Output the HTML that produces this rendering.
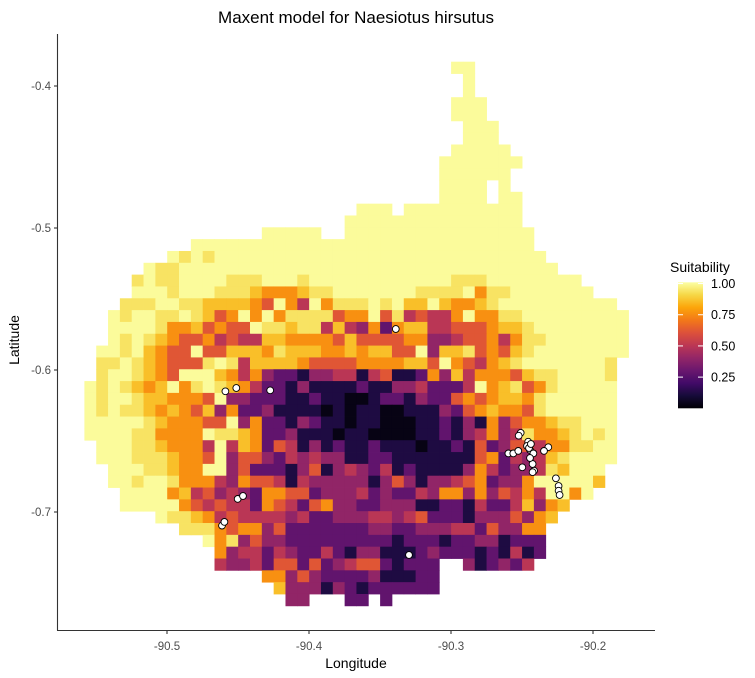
<!DOCTYPE html>
<html><head><meta charset="utf-8"><style>
html,body{margin:0;padding:0;background:#fff;}
svg{display:block;font-family:"Liberation Sans",Arial,sans-serif;}
</style></head><body>
<svg id="chart" width="755" height="678" viewBox="0 0 755 678" xmlns="http://www.w3.org/2000/svg">
<defs>
<linearGradient id="inf" x1="0" y1="1" x2="0" y2="0">
<stop offset="0" stop-color="#000004"/><stop offset="0.1" stop-color="#160b39"/><stop offset="0.2" stop-color="#420a68"/><stop offset="0.3" stop-color="#6a176e"/><stop offset="0.4" stop-color="#932667"/><stop offset="0.5" stop-color="#bc3754"/><stop offset="0.6" stop-color="#dd513a"/><stop offset="0.7" stop-color="#f37819"/><stop offset="0.8" stop-color="#fca50a"/><stop offset="0.9" stop-color="#f6d746"/><stop offset="1" stop-color="#fcffa4"/>
</linearGradient>
</defs>
<text x="356" y="23" text-anchor="middle" font-size="17" fill="#000">Maxent model for Naesiotus hirsutus</text>
<g id="cells"></g>
<g id="pts"></g>
<line x1="57.5" y1="34" x2="57.5" y2="630.5" stroke="#333" stroke-width="1.1"/>
<line x1="57" y1="630.5" x2="655" y2="630.5" stroke="#333" stroke-width="1.1"/>
<g id="xt"></g>
<g id="yt"></g>
<text x="356" y="668" text-anchor="middle" font-size="14" fill="#000">Longitude</text>
<text x="19" y="340" text-anchor="middle" font-size="14" fill="#000" transform="rotate(-90 19 340)">Latitude</text>
<g>
<text x="670" y="272" font-size="14" fill="#000">Suitability</text>
<rect x="678" y="282.3" width="25" height="126" fill="url(#inf)"/>
<g id="lt"></g>
</g>
</svg>
<script>
// ---- data ----
const lonTicks = [-90.5, -90.4, -90.3, -90.2];
const latTicks = [-0.4, -0.5, -0.6, -0.7];
const legendTicks = [1.00, 0.75, 0.50, 0.25];
const levelValues = [0.03, 0.12, 0.28, 0.40, 0.50, 0.62, 0.76, 0.86, 0.94, 1.0];
const gridLon0 = -90.55817;
const gridLat0 = -0.38289;
const cellDeg = 0.00833;
const rowStarts = [31,32,32,31,31,32,32,31,30,30,30,30,23,22,15,9,7,5,4,4,3,2,2,2,1,1,1,0,0,0,0,0,1,1,2,2,3,3,6,8,10,11,11,15,16,17];
const rowValues = [
"99","9","9","999","999","999","999","99999","9999999","999999","9999.9","9999.99",
"999.9999999999",
"999999999999999",
"99999..9999999999999999",
"99999999999999999999999999999",
"9898"+"9999999999999999999999999999",
"988"+"99999999999999999999999999999999",
"898899998889998999"+"999999999"+"888"+"99999999",
"999899988876667889"+"99999"+"988889688"+"9999999",
"8889988777765964968"+"88989779766789"+"999999999",
"98998898756969688885"+"6695845446966889"+"99999999",
"99998667565598878847"+"4362677445556778"+"99999999",
"98987655645447766665"+"75555663345564688"+"9999999",
"998976559557776877766"+"7677559377856578"+"99999999",
"889876555898477776555"+"566667759654678"+"9999999"+"8",
"899876599976463221334"+"414511263746665788"+"9999"+"8",
"9898767968987642213111"+"121133422249678568"+"99999",
"9899877666593322211211"+"00122132256567768"+"999999",
"9898876765736223111101"+"01100111325676658"+"999999",
"9999987666559362213211"+"01100011213163566788"+"999",
"9999886666988762231110"+"11000011213463486678989",
"999887666494762541312"+"11211101121523554668899",
"999888766593553243433"+"11221111111562434789999",
"99988766993522213513"+"4324121111364233487999",
"99899866643655414333"+"3313531334562336999997",
"9999674534326655233"+"342322436636354649969",
"9999965454426542563"+"3223331122142247367",
"9887645444434223"+"334434522213335367",
"88865663522222"+"22332233344253366",
"968353322222"+"22221222122331222",
"63442432242"+"13311123222121412",
"43342552523"+"45521222"+".."+"312324",
"663532222311122",
"73331321222222",
"33...22.2"
];
const occLon = [-90.3389,-90.4589,-90.4512,-90.4273,-90.4502,-90.4465,-90.4613,-90.4596,-90.3296,-90.2509,-90.2523,-90.2456,-90.2596,-90.2561,-90.2526,-90.2444,-90.2420,-90.2315,-90.2345,-90.2425,-90.2498,-90.2415,-90.2425,-90.2261,-90.2242,-90.2242,-90.2235,-90.2465,-90.2451,-90.2437,-90.2444];
const occLat = [-0.5711,-0.6150,-0.6127,-0.6143,-0.6908,-0.6887,-0.7096,-0.7070,-0.7303,-0.6442,-0.6463,-0.6505,-0.6587,-0.6587,-0.6570,-0.6563,-0.6587,-0.6544,-0.6570,-0.6662,-0.6685,-0.6709,-0.6720,-0.6763,-0.6817,-0.6850,-0.6880,-0.6535,-0.6549,-0.6521,-0.6620];

// ---- scales ----
const PX = 1420;
function xS(lon){ return 167 + (lon + 90.5) * PX; }
function yS(lat){ return 86 + (-0.4 - lat) * PX; }
function legY(v){ return 408.3 - v / 1.01 * 126; }
const STOPS = ["#000004","#160b39","#420a68","#6a176e","#932667","#bc3754","#dd513a","#f37819","#fca50a","#f6d746","#fcffa4"];
function hx(c){ return [parseInt(c.substr(1,2),16),parseInt(c.substr(3,2),16),parseInt(c.substr(5,2),16)]; }
function inferno(v){
  v = Math.max(0, Math.min(1, v / 1.01));
  const p = v * 10, i = Math.min(9, Math.floor(p)), f = p - i;
  const a = hx(STOPS[i]), b = hx(STOPS[i+1]);
  return "rgb(" + a.map((c,k)=>Math.round(c + (b[k]-c)*f)).join(",") + ")";
}
const NS = "http://www.w3.org/2000/svg";
function mk(tag, attrs, parent){
  const e = document.createElementNS(NS, tag);
  for (const k in attrs) e.setAttribute(k, attrs[k]);
  parent.appendChild(e);
  return e;
}

// ---- raster ----
const gCells = document.getElementById("cells");
for (let r = 0; r < rowValues.length; r++){
  const s = rowValues[r];
  for (let k = 0; k < s.length; k++){
    const ch = s[k];
    if (ch === ".") continue;
    const c = rowStarts[r] + k;
    const lonL = gridLon0 + c * cellDeg, latT = gridLat0 - r * cellDeg;
    const x1 = xS(lonL), x2 = xS(lonL + cellDeg), y1 = yS(latT), y2 = yS(latT - cellDeg);
    const rc = mk("rect", {x: x1.toFixed(2), y: y1.toFixed(2), width: (x2-x1+0.4).toFixed(2), height: (y2-y1+0.4).toFixed(2), fill: inferno(levelValues[+ch])}, gCells);
    
    
  }
}

// ---- points ----
const gPts = document.getElementById("pts");
for (let i = 0; i < occLon.length; i++){
  const p = mk("circle", {cx: xS(occLon[i]).toFixed(1), cy: yS(occLat[i]).toFixed(1), r: 3.4, fill: "#fff", stroke: "#000", "stroke-width": 0.9}, gPts);
  
  
}

// ---- axes ----
const gx = document.getElementById("xt");
lonTicks.forEach(v => {
  const x = xS(v);
  const t = mk("line", {x1: x, y1: 630.5, x2: x, y2: 634, stroke: "#333", "stroke-width": 1.1}, gx);
  
  
  const l = mk("text", {x: x, y: 650, "text-anchor": "middle", "font-size": 11.5, fill: "#4d4d4d"}, gx);
  l.textContent = v.toFixed(1);
  
  
});
const gy = document.getElementById("yt");
latTicks.forEach(v => {
  const y = yS(v);
  const t = mk("line", {x1: 54, y1: y, x2: 57.5, y2: y, stroke: "#333", "stroke-width": 1.1}, gy);
  
  
  const l = mk("text", {x: 51, y: y + 4, "text-anchor": "end", "font-size": 11.5, fill: "#4d4d4d"}, gy);
  l.textContent = v.toFixed(1);
  
  
});

// ---- legend ticks ----
const gl = document.getElementById("lt");
legendTicks.forEach(v => {
  const y = legY(v);
  const a = mk("line", {x1: 678, y1: y, x2: 683, y2: y, stroke: "#fff", "stroke-width": 1}, gl);
  
  
  const b = mk("line", {x1: 698, y1: y, x2: 703, y2: y, stroke: "#fff", "stroke-width": 1}, gl);
  
  
  const l = mk("text", {x: 711, y: y + 4.5, "font-size": 12.5, fill: "#000"}, gl);
  l.textContent = v.toFixed(2);
  
  
});
</script>
</body></html>
